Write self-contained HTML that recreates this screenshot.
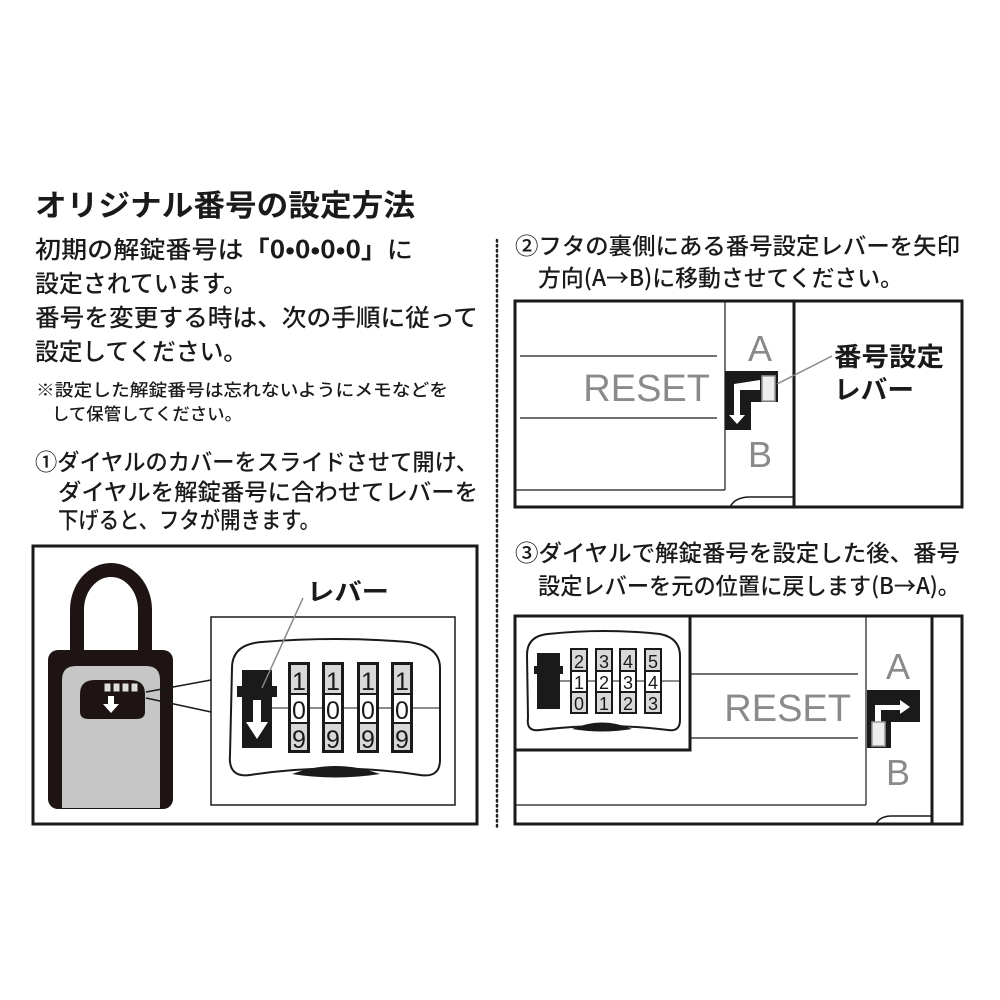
<!DOCTYPE html>
<html><head><meta charset="utf-8"><style>
html,body{margin:0;padding:0;background:#fff}
svg{display:block}
text{font-family:"Liberation Sans","Noto Sans CJK JP",sans-serif;fill:#1a1a1a}
.j{font-family:"Noto Sans CJK JP","Liberation Sans",sans-serif;font-weight:500}
.g{fill:#8a8a8a;font-family:"Liberation Sans",sans-serif}
.d{font-family:"Liberation Sans",sans-serif}
</style></head><body>
<svg width="1000" height="1000" viewBox="0 0 1000 1000" xmlns="http://www.w3.org/2000/svg">
<text class="j" x="35" y="216" font-size="30" style="font-weight:bold" textLength="380" lengthAdjust="spacingAndGlyphs">オリジナル番号の設定方法</text>
<text class="j" x="35" y="258" font-size="24" textLength="378" lengthAdjust="spacingAndGlyphs">初期の解錠番号は<tspan style="font-weight:bold">「0•0•0•0」</tspan>に</text>
<text class="j" x="35" y="292" font-size="24" textLength="212" lengthAdjust="spacingAndGlyphs">設定されています。</text>
<text class="j" x="35" y="326" font-size="24" textLength="443" lengthAdjust="spacingAndGlyphs">番号を変更する時は、次の手順に従って</text>
<text class="j" x="35" y="360" font-size="24" textLength="212" lengthAdjust="spacingAndGlyphs">設定してください。</text>
<text class="j" x="36" y="396" font-size="17" textLength="412" lengthAdjust="spacingAndGlyphs">※設定した解錠番号は忘れないようにメモなどを</text>
<text class="j" x="52" y="420" font-size="17" textLength="190" lengthAdjust="spacingAndGlyphs">して保管してください。</text>
<text class="j" x="35" y="470" font-size="23" textLength="443" lengthAdjust="spacingAndGlyphs">①ダイヤルのカバーをスライドさせて開け、</text>
<text class="j" x="58" y="500" font-size="23" textLength="420" lengthAdjust="spacingAndGlyphs">ダイヤルを解錠番号に合わせてレバーを</text>
<text class="j" x="58" y="528" font-size="23" textLength="262" lengthAdjust="spacingAndGlyphs">下げると、フタが開きます。</text>

<line x1="497" y1="240" x2="497" y2="830" stroke="#222" stroke-width="2.5" stroke-dasharray="1.5 3.5" stroke-linecap="round"/>

<text class="j" x="515" y="254" font-size="23" textLength="445" lengthAdjust="spacingAndGlyphs">②フタの裏側にある番号設定レバーを矢印</text>
<text class="j" x="538" y="286" font-size="23" textLength="365" lengthAdjust="spacingAndGlyphs">方向(A→B)に移動させてください。</text>
<text class="j" x="515" y="561" font-size="23" textLength="445" lengthAdjust="spacingAndGlyphs">③ダイヤルで解錠番号を設定した後、番号</text>
<text class="j" x="538" y="594" font-size="23" textLength="422" lengthAdjust="spacingAndGlyphs">設定レバーを元の位置に戻します(B→A)。</text>

<rect x="33" y="546" width="444" height="278" fill="none" stroke="#1a1a1a" stroke-width="3"/>
<path d="M77 655 V610 A34 40 0 0 1 145 610 V655" fill="none" stroke="#1f1414" stroke-width="14"/>
<rect x="48" y="650" width="125" height="159" rx="10" fill="#1f1414"/>
<path d="M62 808 V680 Q62 666 76 666 H146 Q160 666 160 680 V808 Z" fill="#c6c6c6"/>
<path d="M80 694 Q80 680 95 680 H130 Q145 680 145 694 V712 Q145 719 136 719 H89 Q80 719 80 712 Z" fill="#1f1414"/>
<rect x="104" y="683" width="7" height="9" fill="#ddd" stroke="#1f1414" stroke-width="1"/>
<rect x="113" y="683" width="7" height="9" fill="#ddd" stroke="#1f1414" stroke-width="1"/>
<rect x="122" y="683" width="7" height="9" fill="#ddd" stroke="#1f1414" stroke-width="1"/>
<rect x="131" y="683" width="7" height="9" fill="#ddd" stroke="#1f1414" stroke-width="1"/>
<path d="M108 696 h6 v8 h5 l-8 9 l-8 -9 h5 z" fill="#fff"/>
<line x1="146" y1="692" x2="211" y2="680" stroke="#1a1a1a" stroke-width="1.5"/>
<line x1="146" y1="698" x2="211" y2="712" stroke="#1a1a1a" stroke-width="1.5"/>
<rect x="211" y="617" width="244" height="188" fill="#fff" stroke="#1a1a1a" stroke-width="1.5"/>
<path d="M232 668 Q232 644 262 642 Q335 636 408 642 Q440 646 440 668 V760 Q440 778 420 775 Q335 762 250 775 Q228 778 230 755 Z" fill="none" stroke="#1a1a1a" stroke-width="2"/>
<path d="M292 774 Q335 758 380 774 Q335 781 292 774 Z" fill="#1a1a1a"/>
<line x1="272" y1="708" x2="440" y2="708" stroke="#1a1a1a" stroke-width="1"/>
<rect x="242" y="670" width="30" height="78" fill="#1a1a1a"/>
<rect x="237" y="686" width="40" height="11" fill="#1a1a1a"/>
<path d="M253 700 h8 v22 h7 l-11 17 l-11 -17 h7 z" fill="#fff"/>
<line x1="262" y1="688" x2="303" y2="598" stroke="#888" stroke-width="1.5"/>
<text class="j" x="307" y="600" font-size="24" style="font-weight:bold" textLength="82" lengthAdjust="spacingAndGlyphs">レバー</text>
<g>
<g transform="translate(288,0)"><rect x="0" y="662" width="22" height="91" fill="#1a1a1a"/><rect x="3" y="665" width="16" height="28" fill="#d8d8d8"/><rect x="3" y="695" width="16" height="27" fill="#fff"/><rect x="3" y="724" width="16" height="26" fill="#d8d8d8"/><text class="d" x="11" y="690" font-size="25" text-anchor="middle">1</text><text class="d" x="11" y="719" font-size="25" text-anchor="middle">0</text><text class="d" x="11" y="748" font-size="25" text-anchor="middle">9</text></g>
<g transform="translate(322,0)"><rect x="0" y="662" width="22" height="91" fill="#1a1a1a"/><rect x="3" y="665" width="16" height="28" fill="#d8d8d8"/><rect x="3" y="695" width="16" height="27" fill="#fff"/><rect x="3" y="724" width="16" height="26" fill="#d8d8d8"/><text class="d" x="11" y="690" font-size="25" text-anchor="middle">1</text><text class="d" x="11" y="719" font-size="25" text-anchor="middle">0</text><text class="d" x="11" y="748" font-size="25" text-anchor="middle">9</text></g>
<g transform="translate(357,0)"><rect x="0" y="662" width="22" height="91" fill="#1a1a1a"/><rect x="3" y="665" width="16" height="28" fill="#d8d8d8"/><rect x="3" y="695" width="16" height="27" fill="#fff"/><rect x="3" y="724" width="16" height="26" fill="#d8d8d8"/><text class="d" x="11" y="690" font-size="25" text-anchor="middle">1</text><text class="d" x="11" y="719" font-size="25" text-anchor="middle">0</text><text class="d" x="11" y="748" font-size="25" text-anchor="middle">9</text></g>
<g transform="translate(391,0)"><rect x="0" y="662" width="22" height="91" fill="#1a1a1a"/><rect x="3" y="665" width="16" height="28" fill="#d8d8d8"/><rect x="3" y="695" width="16" height="27" fill="#fff"/><rect x="3" y="724" width="16" height="26" fill="#d8d8d8"/><text class="d" x="11" y="690" font-size="25" text-anchor="middle">1</text><text class="d" x="11" y="719" font-size="25" text-anchor="middle">0</text><text class="d" x="11" y="748" font-size="25" text-anchor="middle">9</text></g>
</g>

<rect x="515" y="301" width="447" height="206" fill="none" stroke="#1a1a1a" stroke-width="3"/>
<line x1="794" y1="301" x2="794" y2="507" stroke="#1a1a1a" stroke-width="3"/>
<line x1="725" y1="301" x2="725" y2="490" stroke="#1a1a1a" stroke-width="1.2"/>
<line x1="515" y1="490" x2="725" y2="490" stroke="#1a1a1a" stroke-width="1.2"/>
<path d="M730 507 Q735 497 750 497 H794" fill="none" stroke="#1a1a1a" stroke-width="1.5"/>
<line x1="520" y1="356" x2="717" y2="356" stroke="#1a1a1a" stroke-width="1.2"/>
<line x1="520" y1="418" x2="717" y2="418" stroke="#1a1a1a" stroke-width="1.2"/>
<text class="g" x="710" y="401" font-size="38" text-anchor="end">RESET</text>
<text class="g" x="760" y="361" font-size="36" text-anchor="middle">A</text>
<text class="g" x="760" y="467" font-size="36" text-anchor="middle">B</text>
<path d="M725 371 H778 V402 H751 V430 H725 Z" fill="#1a1a1a"/>
<path d="M760 380 V390 H740 V415 H745 L737 424 L729 415 H734 V384 Z" fill="#fff"/>
<rect x="762" y="376" width="13" height="25" fill="#eee" stroke="#999" stroke-width="1.5"/>
<line x1="777" y1="384" x2="832" y2="356" stroke="#888" stroke-width="1.5"/>
<text class="j" x="834" y="366" font-size="26" style="font-weight:bold" textLength="110" lengthAdjust="spacingAndGlyphs">番号設定</text>
<text class="j" x="834" y="399" font-size="26" style="font-weight:bold" textLength="80" lengthAdjust="spacingAndGlyphs">レバー</text>

<rect x="515" y="616" width="447" height="208" fill="none" stroke="#1a1a1a" stroke-width="3"/>
<line x1="932" y1="616" x2="932" y2="824" stroke="#1a1a1a" stroke-width="3"/>
<line x1="866" y1="616" x2="866" y2="805" stroke="#1a1a1a" stroke-width="1.2"/>
<line x1="515" y1="805" x2="866" y2="805" stroke="#1a1a1a" stroke-width="1.2"/>
<path d="M876 824 Q880 816 892 816 H932" fill="none" stroke="#1a1a1a" stroke-width="1.5"/>
<line x1="690" y1="674" x2="858" y2="674" stroke="#1a1a1a" stroke-width="1.2"/>
<line x1="690" y1="738" x2="858" y2="738" stroke="#1a1a1a" stroke-width="1.2"/>
<text class="g" x="851" y="721" font-size="38" text-anchor="end">RESET</text>
<text class="g" x="898" y="679" font-size="36" text-anchor="middle">A</text>
<text class="g" x="898" y="785" font-size="36" text-anchor="middle">B</text>
<rect x="515" y="616" width="175" height="134" fill="none" stroke="#1a1a1a" stroke-width="3"/>
<path d="M527 655 Q527 636 548 634 Q605 628 660 634 Q680 638 680 656 V720 Q680 732 668 730 Q605 722 540 730 Q526 732 528 718 Z" fill="#fff" stroke="#1a1a1a" stroke-width="2"/>
<path d="M572 729 Q602 716 632 729 Q602 734 572 729 Z" fill="#1a1a1a"/>
<line x1="560" y1="681" x2="680" y2="681" stroke="#1a1a1a" stroke-width="1"/>
<rect x="537" y="653" width="23" height="56" fill="#1a1a1a"/>
<rect x="534" y="666" width="29" height="8" fill="#1a1a1a"/>
<g>
<g transform="translate(570,0)"><rect x="0" y="648" width="18" height="66" fill="#1a1a1a"/><rect x="2" y="650" width="14" height="20" fill="#d8d8d8"/><rect x="2" y="672" width="14" height="19" fill="#fff"/><rect x="2" y="693" width="14" height="19" fill="#d8d8d8"/><text class="d" x="9" y="668" font-size="18" text-anchor="middle">2</text><text class="d" x="9" y="689" font-size="18" text-anchor="middle">1</text><text class="d" x="9" y="710" font-size="18" text-anchor="middle">0</text></g>
<g transform="translate(595,0)"><rect x="0" y="648" width="18" height="66" fill="#1a1a1a"/><rect x="2" y="650" width="14" height="20" fill="#d8d8d8"/><rect x="2" y="672" width="14" height="19" fill="#fff"/><rect x="2" y="693" width="14" height="19" fill="#d8d8d8"/><text class="d" x="9" y="668" font-size="18" text-anchor="middle">3</text><text class="d" x="9" y="689" font-size="18" text-anchor="middle">2</text><text class="d" x="9" y="710" font-size="18" text-anchor="middle">1</text></g>
<g transform="translate(619,0)"><rect x="0" y="648" width="18" height="66" fill="#1a1a1a"/><rect x="2" y="650" width="14" height="20" fill="#d8d8d8"/><rect x="2" y="672" width="14" height="19" fill="#fff"/><rect x="2" y="693" width="14" height="19" fill="#d8d8d8"/><text class="d" x="9" y="668" font-size="18" text-anchor="middle">4</text><text class="d" x="9" y="689" font-size="18" text-anchor="middle">3</text><text class="d" x="9" y="710" font-size="18" text-anchor="middle">2</text></g>
<g transform="translate(644,0)"><rect x="0" y="648" width="18" height="66" fill="#1a1a1a"/><rect x="2" y="650" width="14" height="20" fill="#d8d8d8"/><rect x="2" y="672" width="14" height="19" fill="#fff"/><rect x="2" y="693" width="14" height="19" fill="#d8d8d8"/><text class="d" x="9" y="668" font-size="18" text-anchor="middle">5</text><text class="d" x="9" y="689" font-size="18" text-anchor="middle">4</text><text class="d" x="9" y="710" font-size="18" text-anchor="middle">3</text></g>
</g>
<path d="M867 690 H920 V722 H891 V748 H867 Z" fill="#1a1a1a"/>
<path d="M875 722 V705 H900 V700 L910 707 L900 714 V710 H881 V722 Z" fill="#fff"/>
<rect x="872" y="722" width="13" height="24" fill="#eee" stroke="#999" stroke-width="1.5"/>
</svg>
</body></html>
